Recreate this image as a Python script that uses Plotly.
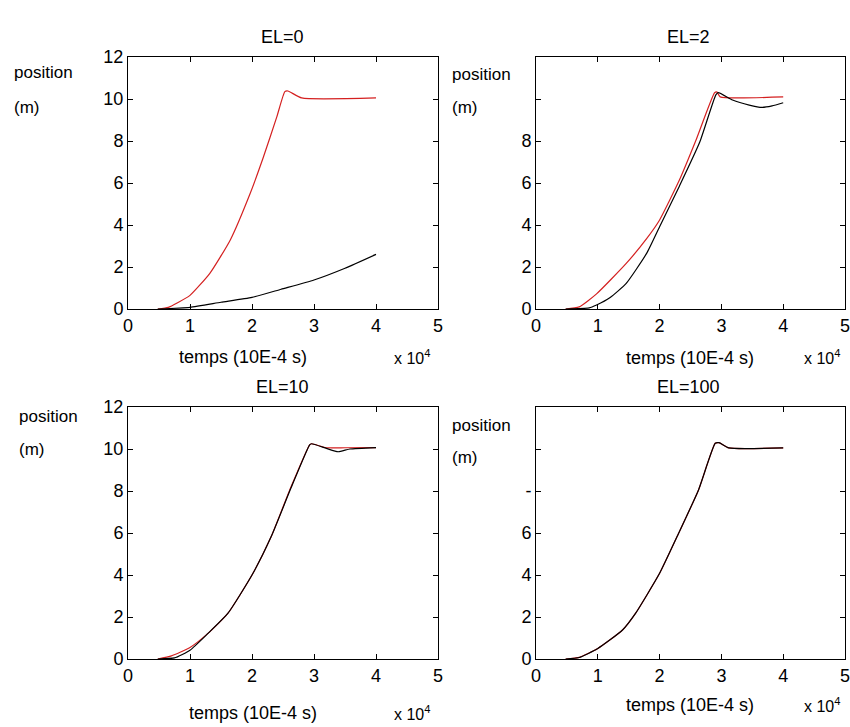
import plotly.graph_objects as go

# ---------------- data (time in units of 1e4 x 1E-4 s, position in m) ----------------
titles = ["EL=0", "EL=2", "EL=10", "EL=100"]

t_el0_red = [0.48, 0.65, 0.8, 1.0, 1.32, 1.65, 1.97, 2.18, 2.4, 2.53, 2.58, 2.8, 4.0]
y_el0_red = [0.0, 0.08, 0.3, 0.65, 1.7, 3.29, 5.5, 7.2, 9.15, 10.35, 10.38, 10.05, 10.05]
t_el0_blk = [0.48, 1.0, 1.5, 2.0, 2.47, 3.0, 3.5, 4.0]
y_el0_blk = [0.0, 0.08, 0.32, 0.55, 0.94, 1.38, 1.94, 2.6]

t_el2_red = [0.48, 0.7, 0.98, 1.46, 1.79, 2.0, 2.32, 2.59, 2.89, 2.93, 2.98, 4.0]
y_el2_red = [0.0, 0.1, 0.72, 2.17, 3.35, 4.24, 6.14, 8.05, 10.3, 10.33, 10.1, 10.1]
t_el2_blk = [0.48, 0.86, 0.98, 1.2, 1.46, 1.79, 2.0, 2.32, 2.65, 2.91, 2.95, 3.18, 3.45, 3.66, 3.82, 4.0]
y_el2_blk = [0.0, 0.05, 0.19, 0.55, 1.22, 2.65, 3.92, 5.85, 7.95, 10.2, 10.3, 9.95, 9.71, 9.6, 9.67, 9.82]

t_el10_red = [0.48, 0.7, 1.0, 1.29, 1.61, 2.0, 2.31, 2.63, 2.93, 2.96, 3.2, 3.5, 4.0]
y_el10_red = [0.0, 0.15, 0.55, 1.22, 2.17, 4.0, 5.83, 8.2, 10.2, 10.25, 10.06, 10.06, 10.07]
t_el10_blk = [0.48, 0.75, 1.0, 1.29, 1.61, 2.0, 2.31, 2.63, 2.93, 2.96, 3.2, 3.39, 3.58, 4.0]
y_el10_blk = [0.0, 0.05, 0.42, 1.22, 2.17, 4.0, 5.83, 8.15, 10.2, 10.25, 10.03, 9.87, 10.0, 10.07]

t_el100_red = [0.48, 0.7, 1.0, 1.4, 1.61, 2.0, 2.31, 2.63, 2.9, 2.96, 3.12, 4.0]
y_el100_red = [0.0, 0.08, 0.5, 1.38, 2.17, 4.08, 6.0, 8.05, 10.27, 10.3, 10.05, 10.05]
t_el100_blk = [0.48, 0.7, 1.0, 1.4, 1.61, 2.0, 2.31, 2.63, 2.9, 2.96, 3.12, 4.0]
y_el100_blk = [0.0, 0.07, 0.5, 1.38, 2.17, 4.08, 6.0, 8.05, 10.27, 10.3, 10.05, 10.05]

x_ticks = [0, 1, 2, 3, 4, 5]
y_ticks_full = [0, 2, 4, 6, 8, 10, 12]
y_ticks_part = [0, 2, 4, 6, 8]
y_minor_part = [10, 12]
y_text_full = ["0", "2", "4", "6", "8", "10", "12"]
y_text_tr = ["0", "2", "4", "6", "8"]
y_text_br = ["0", "2", "4", "6", "-"]

series = [
    (t_el0_red, y_el0_red, t_el0_blk, y_el0_blk),
    (t_el2_red, y_el2_red, t_el2_blk, y_el2_blk),
    (t_el10_red, y_el10_red, t_el10_blk, y_el10_blk),
    (t_el100_red, y_el100_red, t_el100_blk, y_el100_blk),
]
yticks = [(y_ticks_full, y_text_full, []), (y_ticks_part, y_text_tr, y_minor_part),
          (y_ticks_full, y_text_full, []), (y_ticks_part, y_text_br, y_minor_part)]

# ---------------- layout geometry (pixels) ----------------
W, H = 850, 727
xdom = [(128, 438), (536, 845)]
ydom = [(57, 309), (407, 659)]
FONT = "Liberation Sans, Arial, sans-serif"

def px(x):
    return x / W

def py(y):
    return 1 - y / H

fig = go.Figure()
layout = dict(
    width=W, height=H, margin=dict(l=0, r=0, t=0, b=0, autoexpand=False),
    paper_bgcolor="white", plot_bgcolor="white", showlegend=False,
    font=dict(family=FONT, size=17, color="black"),
)

annotations = []
for i in range(4):
    r, c = divmod(i, 2)
    n = "" if i == 0 else str(i + 1)
    tr, yr, tb, yb = series[i]
    fig.add_trace(go.Scatter(x=tr, y=yr, mode="lines",
                             line=dict(color="#d42020", width=1.2, shape="spline", smoothing=0.5),
                             xaxis="x" + n, yaxis="y" + n))
    fig.add_trace(go.Scatter(x=tb, y=yb, mode="lines",
                             line=dict(color="black", width=1.2, shape="spline", smoothing=0.5),
                             xaxis="x" + n, yaxis="y" + n))
    x0, x1 = xdom[c]
    y0, y1 = ydom[r]
    tv, tt, mv = yticks[i]
    layout["xaxis" + n] = dict(
        domain=[px(x0), px(x1)], range=[0, 5], tickvals=x_ticks, automargin=False,
        anchor="y" + n, showline=True, linecolor="black", linewidth=1, mirror="ticks",
        ticks="inside", ticklen=5, tickcolor="black", showgrid=False, zeroline=False,
        tickfont=dict(size=18), ticklabeloverflow="allow",
    )
    yax = dict(
        domain=[py(y1), py(y0)], range=[0, 12], tickvals=tv, ticktext=tt, automargin=False,
        anchor="x" + n, showline=True, linecolor="black", linewidth=1, mirror="ticks",
        ticks="inside", ticklen=5, tickcolor="black", showgrid=False, zeroline=False,
        tickfont=dict(size=18), ticklabeloverflow="allow",
    )
    if mv:
        yax["minor"] = dict(tickvals=mv, ticks="inside", ticklen=5, tickcolor="black", showgrid=False)
    layout["yaxis" + n] = yax

# titles
title_pos = [(282, 37), (688, 37), (282, 387), (688, 387)]
for (tx, ty), t in zip(title_pos, titles):
    annotations.append(dict(text=t, x=px(tx), y=py(ty), xref="paper", yref="paper",
                            showarrow=False, font=dict(size=18), xanchor="center", yanchor="middle"))

# y labels
ylab_pos = [(12, 73, 107), (450, 75, 108), (17, 417, 450), (450, 425, 457)]
for (lx, l1, l2) in ylab_pos:
    annotations.append(dict(text="position", x=px(lx), y=py(l1), xref="paper", yref="paper",
                            showarrow=False, font=dict(size=17), xanchor="left", yanchor="middle"))
    annotations.append(dict(text="(m)", x=px(lx), y=py(l2), xref="paper", yref="paper",
                            showarrow=False, font=dict(size=17), xanchor="left", yanchor="middle"))

# x labels and exponent
xlab_pos = [(243, 357), (690, 358), (253, 713), (690, 705)]
exp_pos = [(412, 357), (822, 357), (412, 713), (822, 705)]
for (lx, ly) in xlab_pos:
    annotations.append(dict(text="temps (10E-4 s)", x=px(lx), y=py(ly), xref="paper", yref="paper",
                            showarrow=False, font=dict(size=18), xanchor="center", yanchor="middle"))
for (ex, ey) in exp_pos:
    annotations.append(dict(text="x 10<sup>4</sup>", x=px(ex), y=py(ey), xref="paper", yref="paper",
                            showarrow=False, font=dict(size=16), xanchor="center", yanchor="middle"))

layout["annotations"] = annotations
fig.update_layout(**layout)
fig.write_html("out.html", config={"displayModeBar": False},
               post_script="document.body.style.margin='0';document.body.style.padding='0';")
